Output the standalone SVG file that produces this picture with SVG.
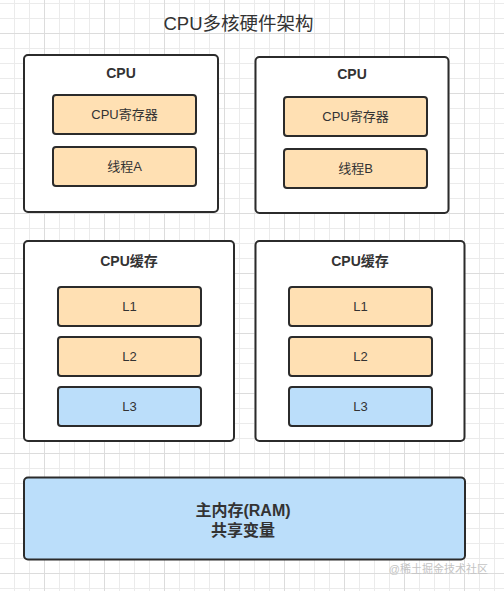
<svg xmlns="http://www.w3.org/2000/svg" width="504" height="591" viewBox="0 0 504 591">
<style>
.box{fill:#ffffff;stroke:#2b2b2b;stroke-width:2}
.org{fill:#ffe0b3;stroke:#2b2b2b;stroke-width:2}
.blu{fill:#bbdefa;stroke:#2b2b2b;stroke-width:2}
.hd{font-family:"Liberation Sans","Noto Sans CJK SC",sans-serif;font-weight:bold;font-size:14px;fill:#333333;text-anchor:middle;dominant-baseline:central}
.lb{font-family:"Liberation Sans","Noto Sans CJK SC",sans-serif;font-size:13px;fill:#333333;text-anchor:middle;dominant-baseline:central}
.ram{font-family:"Liberation Sans","Noto Sans CJK SC",sans-serif;font-weight:bold;font-size:16px;fill:#333333;text-anchor:middle;dominant-baseline:central}
</style>
<defs>
<pattern id="minor" patternUnits="userSpaceOnUse" x="14" y="3" width="15" height="15">
<path d="M0 0.5H15M0.5 0V15" fill="none" stroke="#ebebeb" stroke-width="1"/>
</pattern>
<pattern id="major" patternUnits="userSpaceOnUse" x="44" y="33" width="60" height="60">
<path d="M0 0.5H60M0.5 0V60" fill="none" stroke="#dcdcdc" stroke-width="1"/>
</pattern>
</defs>
<rect x="0" y="0" width="504" height="591" fill="#ffffff"/>
<rect x="0" y="0" width="504" height="591" fill="url(#minor)"/>
<rect x="0" y="0" width="504" height="591" fill="url(#major)"/>

<text x="238.5" y="23" style="font-family:'Liberation Sans','Noto Sans CJK SC',sans-serif;font-size:18.5px;fill:#333333;text-anchor:middle;dominant-baseline:central">CPU多核硬件架构</text>

<g id="cpuA">
<rect class="box" x="24" y="55" width="194" height="157" rx="4"/>
<text class="hd" x="121" y="73">CPU</text>
</g>
<g id="regA">
<rect class="org" x="53" y="95" width="143" height="39" rx="3"/>
<text class="lb" x="124.5" y="114.5">CPU寄存器</text>
</g>
<g id="threadA">
<rect class="org" x="53" y="147" width="143" height="39" rx="3"/>
<text class="lb" x="124.5" y="166.5">线程A</text>
</g>

<g id="cpuB">
<rect class="box" x="255.5" y="57" width="193" height="156" rx="4"/>
<text class="hd" x="352" y="74">CPU</text>
</g>
<g id="regB">
<rect class="org" x="284" y="97" width="143" height="39" rx="3"/>
<text class="lb" x="355.5" y="116.5">CPU寄存器</text>
</g>
<g id="threadB">
<rect class="org" x="284" y="149" width="143" height="39" rx="3"/>
<text class="lb" x="355.5" y="168.5">线程B</text>
</g>

<g id="cacheA">
<rect class="box" x="24" y="241" width="210" height="200" rx="4"/>
<text class="hd" x="129" y="261">CPU缓存</text>
</g>
<g id="l1A">
<rect class="org" x="58" y="287" width="143" height="39" rx="3"/>
<text class="lb" x="129.5" y="306.5">L1</text>
</g>
<g id="l2A">
<rect class="org" x="58" y="337" width="143" height="39" rx="3"/>
<text class="lb" x="129.5" y="356.5">L2</text>
</g>
<g id="l3A">
<rect class="blu" x="58" y="387" width="143" height="39" rx="3"/>
<text class="lb" x="129.5" y="406.5">L3</text>
</g>

<g id="cacheB">
<rect class="box" x="255.5" y="241" width="209" height="200" rx="4"/>
<text class="hd" x="360" y="261">CPU缓存</text>
</g>
<g id="l1B">
<rect class="org" x="289" y="287" width="143" height="39" rx="3"/>
<text class="lb" x="360.5" y="306.5">L1</text>
</g>
<g id="l2B">
<rect class="org" x="289" y="337" width="143" height="39" rx="3"/>
<text class="lb" x="360.5" y="356.5">L2</text>
</g>
<g id="l3B">
<rect class="blu" x="289" y="387" width="143" height="39" rx="3"/>
<text class="lb" x="360.5" y="406.5">L3</text>
</g>

<g id="ram">
<rect class="blu" x="24" y="477.5" width="441" height="82" rx="4"/>
<text class="ram" x="243" y="510.5">主内存(RAM)</text>
<text class="ram" x="243" y="530.5">共享变量</text>
</g>

<g id="connectors"></g>

<text x="488" y="569" style="font-family:'Liberation Sans','Noto Sans CJK SC',sans-serif;font-size:11px;fill:#c4c4c4;text-anchor:end;dominant-baseline:central">@稀土掘金技术社区</text>
</svg>
